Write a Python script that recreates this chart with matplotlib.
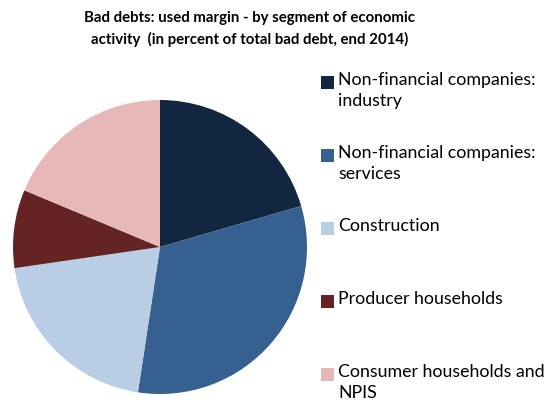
import matplotlib
matplotlib.use("Agg")
import matplotlib.pyplot as plt
from matplotlib.patches import Rectangle

plt.rcParams['font.family'] = ['Lato', 'DejaVu Sans']

segments = ["Non-financial companies:\nindustry",
            "Non-financial companies:\nservices",
            "Construction",
            "Producer households",
            "Consumer households and\nNPIS"]
shares = [20.5, 31.9, 20.3, 8.6, 18.7]
colors = ["#12263F", "#36608F", "#B9CDE4", "#632423", "#E6B9B8"]

W, H = 552, 406
fig = plt.figure(figsize=(W / 100, H / 100), dpi=100)

# pie: centre (160, 248) px, radius 147 px
cx, cy, r = 160, 248, 147
ax = fig.add_axes([(cx - r) / W, (H - cy - r) / H, 2 * r / W, 2 * r / H])
wedges, _ = ax.pie(shares, colors=colors, startangle=90, counterclock=False,
                   wedgeprops=dict(linewidth=0))
ax.set_xlim(-1, 1)
ax.set_ylim(-1, 1)
ax.set_aspect("equal")
ax.axis("off")

fig.text(250 / W, 1 - 22 / H, "Bad debts: used margin - by segment of economic",
         ha="center", va="baseline", fontsize=10.8, fontweight="bold")
fig.text(250 / W, 1 - 44 / H, "activity  (in percent of total bad debt, end 2014)",
         ha="center", va="baseline", fontsize=10.8, fontweight="bold")

# legend, one entry every 73 px
for i, (lab, col) in enumerate(zip(segments, colors)):
    y0 = 83 + 73 * i
    fig.add_artist(Rectangle((321 / W, 1 - (y0 + 7) / H), 13 / W, 13 / H,
                             transform=fig.transFigure, facecolor=col, lw=0))
    fig.text(338 / W, 1 - (y0 - 11) / H, lab, ha="left", va="top",
             fontsize=12.8, linespacing=1.35)

fig.savefig("out.png", dpi=100)
